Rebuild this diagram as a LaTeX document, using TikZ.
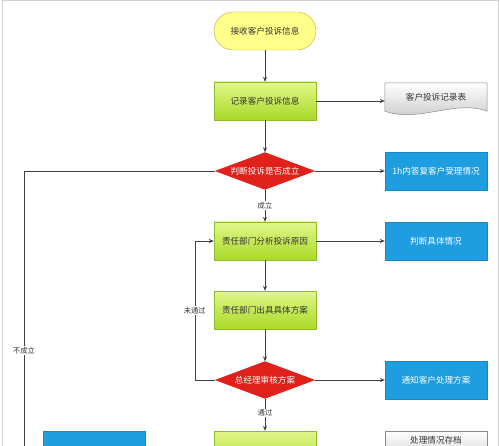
\documentclass[tikz,border=0pt]{standalone}
\usepackage{fontspec}
\newfontfamily\cjk{Noto Sans CJK SC}
\usetikzlibrary{arrows.meta,backgrounds}
\definecolor{lineC}{HTML}{404040}
\definecolor{yelF}{HTML}{FFFF8A}
\definecolor{yelD}{HTML}{B5AE4A}
\definecolor{grnT}{HTML}{E2F78A}
\definecolor{grnB}{HTML}{A9D926}
\definecolor{grnD}{HTML}{8EBB2E}
\definecolor{redF}{HTML}{E0201A}
\definecolor{bluF}{HTML}{1E9DE0}
\definecolor{bluD}{HTML}{1A86C4}
\definecolor{gryB}{HTML}{C4C4C4}
\definecolor{gryD}{HTML}{8A8A8A}
\definecolor{txtC}{HTML}{333333}
\begin{document}
\begin{tikzpicture}[x=1pt,y=-1pt,
  base/.style={minimum width=102pt,minimum height=38pt,inner sep=0pt,
    font=\cjk\fontsize{8.6}{10}\selectfont},
  term/.style={base,draw=yelD,fill=yelF,rounded corners=19pt,text=txtC},
  proc/.style={base,draw=grnD,top color=grnT,bottom color=grnB,text=txtC},
  info/.style={base,draw=bluD,fill=bluF,text=white},
  arch/.style={base,draw=gryD,top color=white,bottom color=gryB,text=txtC},
  dia/.style={base,minimum width=100pt,minimum height=37pt,text=white},
  docn/.style={base,minimum height=28pt,text=txtC},
  lbl/.style={fill=white,inner sep=1pt,text=txtC,font=\cjk\fontsize{7.3}{8}\selectfont},
  conn/.style={draw=lineC,line width=0.6pt},
  arr/.style={conn,-{Stealth[length=5pt,width=4pt]}}]
\useasboundingbox (0,0) rectangle (500,446);
\clip (0,0) rectangle (500,446);
\draw[gray!35,line width=1pt] (2,446) -- (2,1) -- (498,1) -- (498,446);

\node[term] (start) at (265,31) {接收客户投诉信息};
\node[proc] (rec) at (265,101) {记录客户投诉信息};
\node[docn] (doc) at (436,97) {客户投诉记录表};
\node[dia] (d1) at (265,171) {判断投诉是否成立};
\node[info] (b1) at (436,171) {1h内答复客户受理情况};
\node[proc] (ana) at (265,241) {责任部门分析投诉原因};
\node[info] (b2) at (436,241) {判断具体情况};
\node[proc] (plan) at (265,310) {责任部门出具具体方案};
\node[dia] (d2) at (265,380) {总经理审核方案};
\node[info] (b3) at (436,380) {通知客户处理方案};
\node[proc] (exe) at (265,450) {};
\node[info] (bl) at (94,450) {};
\node[arch] (ar) at (436,450) {};
\node[base,minimum height=0pt,text=txtC] (artxt) at (436,440.5) {处理情况存档};

\begin{pgfonlayer}{background}
  \fill[redF] (d1.north) -- (d1.east) -- (d1.south) -- (d1.west) -- cycle;
  \fill[redF] (d2.north) -- (d2.east) -- (d2.south) -- (d2.west) -- cycle;
  \shade[top color=white,bottom color=gryB,draw=gryD,line width=0.5pt]
    (doc.north west) -- (doc.north east) -- (doc.south east)
    .. controls +(-32,-12) and +(34,12) .. (doc.south west) -- cycle;
\end{pgfonlayer}

\draw[arr] (start) -- (rec);
\draw[arr] (rec.east) -- (rec.east -| doc.west);
\draw[arr] (rec) -- (d1.north);
\draw[arr] (d1.east) -- (b1.west);
\draw[arr] (d1.south) -- node[lbl]{成立} (ana.north);
\draw[arr] (ana) -- (b2);
\draw[arr] (ana) -- (plan);
\draw[arr] (plan) -- (d2.north);
\draw[arr] (d2.east) -- (b3.west);
\draw[arr] (d2.south) -- node[lbl,pos=0.45]{通过} (exe.north);
\draw[arr] (d2.west) -- ++(-20,0) |- node[lbl,pos=0.25]{未通过} (ana.west);
\coordinate (nofar) at (24,470);
\draw[conn] (d1.west) -| node[lbl,pos=0.8]{不成立} (nofar);
\end{tikzpicture}
\end{document}
